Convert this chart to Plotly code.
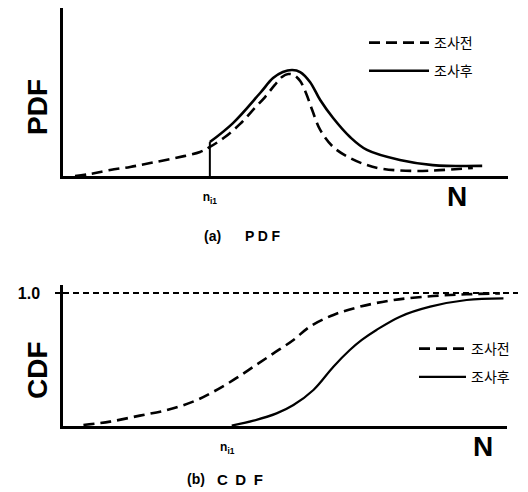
import plotly.graph_objects as go

# ---------------- data ----------------
# (a) PDF panel, x in 0..100 axis units, y in 0..1
pdf_before_x = [2.7, 6.1, 10.6, 15.1, 19.6, 25.2, 30.8, 33.0, 36.4, 39.8, 43.1, 45.4, 47.6, 49.2,
                50.6, 51.9, 53.3, 54.6, 56.0, 57.8, 60.7, 64.5, 68.3, 71.9, 79.6, 92.1]
pdf_before_y = [0.000, 0.012, 0.036, 0.054, 0.077, 0.107, 0.143, 0.173, 0.232, 0.310, 0.405, 0.470,
                0.542, 0.589, 0.607, 0.601, 0.565, 0.494, 0.393, 0.274, 0.173, 0.107, 0.065, 0.042,
                0.030, 0.048]
pdf_after_x = [33.0, 38.2, 44.3, 47.2, 49.4, 51.5, 53.3, 55.5, 57.8, 60.7, 64.5, 68.3, 75.7, 83.1, 94.2]
pdf_after_y = [0.202, 0.315, 0.494, 0.583, 0.619, 0.631, 0.619, 0.560, 0.452, 0.345, 0.232, 0.155,
               0.095, 0.065, 0.060]
n_i1_pdf = 33.0

# (b) CDF panel
cdf_before_x = [4.6, 10.6, 17.3, 23.4, 29.3, 33.9, 38.4, 42.9, 47.4, 51.9, 55.6, 60.9, 66.9, 74.4,
                83.4, 90.9, 98.4]
cdf_before_y = [0.008, 0.033, 0.078, 0.120, 0.183, 0.258, 0.346, 0.446, 0.546, 0.647, 0.747, 0.835,
                0.897, 0.947, 0.977, 0.990, 0.997]
cdf_after_x = [38.0, 42.9, 48.1, 51.9, 56.4, 60.9, 64.6, 67.3, 70.6, 75.9, 82.7, 90.9, 99.2]
cdf_after_y = [0.003, 0.040, 0.095, 0.158, 0.271, 0.446, 0.571, 0.647, 0.722, 0.822, 0.897, 0.947,
               0.960]
n_i1_cdf = 37.0
cdf_max = 1.0

series_names = ["조사전", "조사후"]
tick_label = "n<sub>i1</sub>"

# ---------------- figure ----------------
OFF = 8                      # the page body has an 8px margin
W, H = 528 - OFF, 492 - OFF
BLACK = "black"
LBL = "Liberation Sans, Arial, sans-serif"
KR = "Noto Sans CJK KR, sans-serif"

fig = go.Figure()

dash_curve = "11px,6px"

# top panel
fig.add_trace(go.Scatter(x=pdf_before_x, y=pdf_before_y, mode="lines", name=series_names[0],
                         line=dict(color=BLACK, width=2.6, dash=dash_curve, shape="spline"),
                         xaxis="x", yaxis="y", legend="legend", legendgroup="a_before"))
fig.add_trace(go.Scatter(x=pdf_after_x, y=pdf_after_y, mode="lines", name=series_names[1],
                         line=dict(color=BLACK, width=2.6, shape="spline"),
                         xaxis="x", yaxis="y", legend="legend", legendgroup="a_after"))
fig.add_trace(go.Scatter(x=[n_i1_pdf, n_i1_pdf], y=[0, pdf_after_y[0]], mode="lines",
                         line=dict(color=BLACK, width=2), showlegend=False,
                         xaxis="x", yaxis="y"))

# bottom panel
fig.add_trace(go.Scatter(x=cdf_before_x, y=cdf_before_y, mode="lines", name=series_names[0],
                         line=dict(color=BLACK, width=2.6, dash=dash_curve, shape="spline"),
                         xaxis="x2", yaxis="y2", legend="legend2", legendgroup="b_before"))
fig.add_trace(go.Scatter(x=cdf_after_x, y=cdf_after_y, mode="lines", name=series_names[1],
                         line=dict(color=BLACK, width=2.2, shape="spline"),
                         xaxis="x2", yaxis="y2", legend="legend2", legendgroup="b_after"))


def px_x(p):
    return (p - OFF) / W


def px_y(p):
    return 1 - (p - OFF) / H


axis_common = dict(showgrid=False, zeroline=False, showline=True, linecolor=BLACK,
                   linewidth=2.5, fixedrange=True)

fig.update_layout(
    width=W, height=H,
    margin=dict(l=0, r=0, t=0, b=0),
    paper_bgcolor="white", plot_bgcolor="white",
    xaxis=dict(domain=[px_x(63), px_x(508)], range=[0, 100], anchor="y", ticks="",
               tickvals=[n_i1_pdf], ticktext=[tick_label], ticklabelstandoff=8,
               tickfont=dict(family=LBL, size=12, color=BLACK, weight="bold"), **axis_common),
    yaxis=dict(domain=[px_y(176), px_y(8)], range=[0, 1], anchor="x", ticks="",
               showticklabels=False, **axis_common),
    xaxis2=dict(domain=[px_x(63), px_x(507)], range=[0, 100], anchor="y2", ticks="",
                tickvals=[n_i1_cdf], ticktext=[tick_label], ticklabelstandoff=8,
                tickfont=dict(family=LBL, size=12, color=BLACK, weight="bold"), **axis_common),
    yaxis2=dict(domain=[px_y(426), px_y(285)], range=[0, 1.06], anchor="x2",
                ticks="outside", ticklen=5, tickwidth=2, tickcolor=BLACK,
                tickvals=[cdf_max], ticktext=["1.0"], ticklabelstandoff=12,
                tickfont=dict(family=LBL, size=16, color=BLACK, weight="bold"), **axis_common),
    showlegend=True,
    legend=dict(x=px_x(364), y=px_y(27), xanchor="left", yanchor="top",
                font=dict(family=KR, size=14, color=BLACK), bgcolor="rgba(0,0,0,0)",
                itemwidth=60, tracegroupgap=7),
    legend2=dict(x=px_x(414), y=px_y(333), xanchor="left", yanchor="top",
                 font=dict(family=KR, size=14, color=BLACK), bgcolor="rgba(0,0,0,0)",
                 itemwidth=47, tracegroupgap=7),
)

fig.add_shape(type="line", xref="paper", yref="y2", x0=px_x(63), x1=px_x(518),
              y0=cdf_max, y1=cdf_max, line=dict(color=BLACK, width=1.8, dash="6px,4px"))

ann = [
    dict(text="PDF", x=px_x(37), y=px_y(107), textangle=-90,
         font=dict(family=LBL, size=28, color=BLACK, weight="bold")),
    dict(text="CDF", x=px_x(37), y=px_y(370), textangle=-90,
         font=dict(family=LBL, size=28, color=BLACK, weight="bold")),
    dict(text="N", x=px_x(457), y=px_y(196),
         font=dict(family=LBL, size=28, color=BLACK, weight="bold")),
    dict(text="N", x=px_x(483), y=px_y(446),
         font=dict(family=LBL, size=28, color=BLACK, weight="bold")),
    dict(text="(a)", x=px_x(212), y=px_y(236),
         font=dict(family=LBL, size=14, color=BLACK, weight="bold")),
    dict(text="P\u2005D\u2005F", x=px_x(262), y=px_y(236),
         font=dict(family=LBL, size=14, color=BLACK, weight="bold")),
    dict(text="(b)", x=px_x(196), y=px_y(479),
         font=dict(family=LBL, size=14, color=BLACK, weight="bold")),
    dict(text="C\u2002D\u2002F", x=px_x(240), y=px_y(479),
         font=dict(family=LBL, size=15, color=BLACK, weight="bold")),
]
for a in ann:
    fig.add_annotation(xref="paper", yref="paper", showarrow=False,
                       xanchor="center", yanchor="middle", **a)

fig.write_html("out.html")
